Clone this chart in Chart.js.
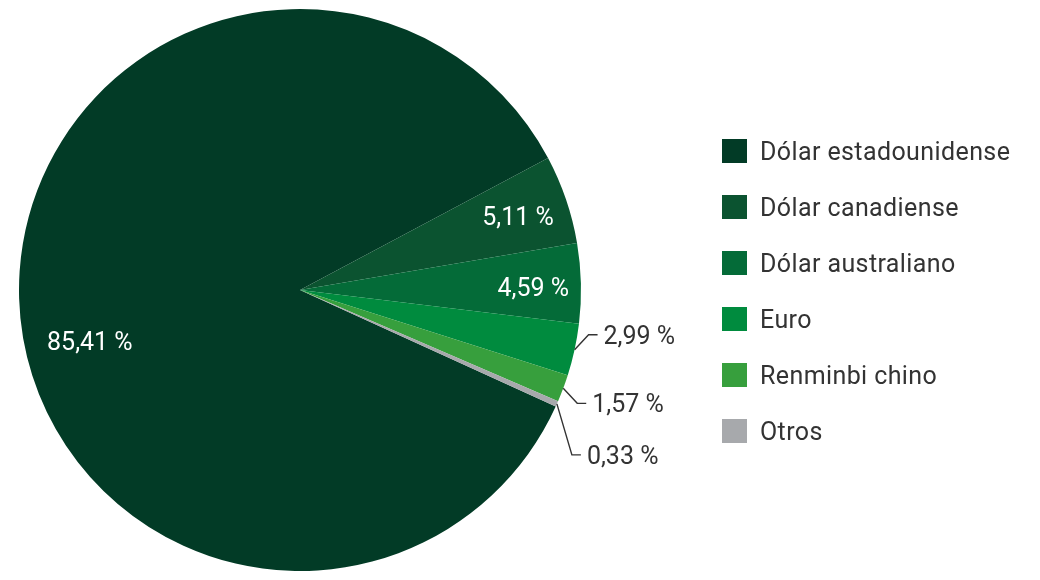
<!DOCTYPE html>
<html>
<head>
<meta charset="utf-8">
<script src="https://cdn.jsdelivr.net/npm/chart.js@4"></script>
<style>
  body { margin: 0; background: #fff; }
  #pie { display: block; }
</style>
</head>
<body>
<canvas id="pie" width="1040" height="580"></canvas>
<script>
// data
const monedas = ['Dólar estadounidense', 'Dólar canadiense', 'Dólar australiano', 'Euro', 'Renminbi chino', 'Otros']
const porcentajes = [85.41, 5.11, 4.59, 2.99, 1.57, 0.33]
const etiquetas = ['85,41 %', '5,11 %', '4,59 %', '2,99 %', '1,57 %', '0,33 %']
const colores = ['#023b26', '#0b5330', '#046b38', '#008b3e', '#379f3d', '#a7a9ac']

// inside labels: fraction of radius + angle shift (deg); outside ones get a leader line
const dentro = [true, true, true, false, false, false]
const fraccion = [0.77, 0.82, 0.83, 0, 0, 0]
const giro = [-12, 0, 0.6, 0, 0, 0]
// elbow of the leader line, relative to the slice edge
const codoX = [0, 0, 0, 14, 14, 15]
const codoY = [0, 0, 0, -15, 15, 51]

const FUENTE = '25px Roboto, "Noto Sans", sans-serif'

const rotulos = {
  id: 'rotulos',
  afterDraw(chart) {
    const c = chart.ctx
    const meta = chart.getDatasetMeta(0)
    c.save()
    c.font = FUENTE
    meta.data.forEach((arc, i) => {
      const p = arc.getProps(['x', 'y', 'startAngle', 'endAngle', 'outerRadius'], true)
      const mid = (p.startAngle + p.endAngle) / 2
      if (dentro[i]) {
        const a = mid + giro[i] * Math.PI / 180
        const r = p.outerRadius * fraccion[i]
        c.fillStyle = '#ffffff'
        c.textAlign = 'center'
        c.textBaseline = 'alphabetic'
        c.fillText(etiquetas[i], p.x + Math.cos(a) * r, p.y + Math.sin(a) * r + 9)
      } else {
        const sx = p.x + Math.cos(mid) * p.outerRadius
        const sy = p.y + Math.sin(mid) * p.outerRadius
        const ex = sx + codoX[i]
        const ey = sy + codoY[i]
        c.strokeStyle = '#333333'
        c.lineWidth = 1.4
        c.beginPath()
        c.moveTo(sx, sy)
        c.lineTo(ex, ey)
        c.lineTo(ex + 9, ey)
        c.stroke()
        c.fillStyle = '#333333'
        c.textAlign = 'left'
        c.textBaseline = 'alphabetic'
        c.fillText(etiquetas[i], ex + 15, ey + 9)
      }
    })

    // legend on the right
    c.textAlign = 'left'
    c.textBaseline = 'alphabetic'
    c.letterSpacing = '0.4px'
    monedas.forEach((m, i) => {
      const cy = 151 + i * 56
      c.fillStyle = colores[i]
      c.fillRect(722, cy - 12, 25, 24)
      c.fillStyle = '#333333'
      c.fillText(m, 760, cy + 9)
    })
    c.restore()
  }
}

new Chart(document.getElementById('pie'), {
  type: 'pie',
  data: {
    labels: monedas,
    datasets: [{
      data: porcentajes,
      backgroundColor: colores,
      borderWidth: 0
    }]
  },
  options: {
    responsive: false,
    animation: false,
    rotation: 114.5,
    layout: {
      padding: { left: 19, top: 9, bottom: 9, right: 459 }
    },
    plugins: {
      legend: { display: false },
      tooltip: { enabled: false }
    }
  },
  plugins: [rotulos]
})
</script>
</body>
</html>
